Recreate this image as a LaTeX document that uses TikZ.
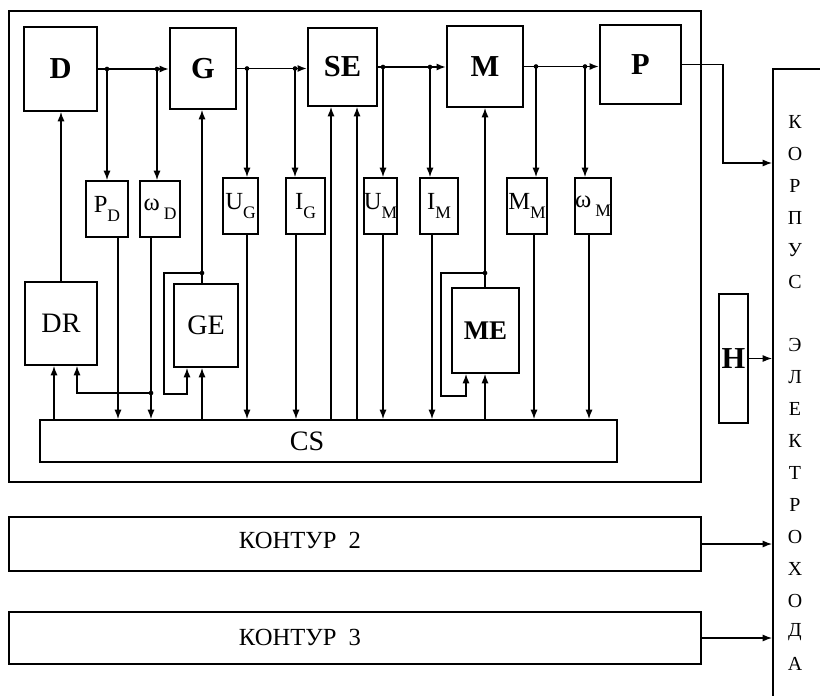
\documentclass[tikz,border=0pt]{standalone}
\usepackage{fontspec}
\setmainfont{Liberation Serif}
\usepackage{graphicx}
\usetikzlibrary{arrows.meta}

\newcommand{\meas}[2]{#1\raisebox{-8pt}{\fontsize{15}{15}\selectfont #2}}

\begin{document}
\begin{tikzpicture}[
    x=0.03cm, y=-0.03cm,
    >={Latex[length=8pt,width=6pt]},
    block/.style={draw, line width=1.6pt, inner sep=0pt, font=\fontsize{26}{26}\selectfont\bfseries},
    unit/.style={draw, line width=1.6pt, inner sep=0pt, font=\fontsize{24}{24}\selectfont},
    sensor/.style={draw, line width=1.6pt, inner sep=0pt, minimum height=1.68cm, font=\fontsize{21}{21}\selectfont},
    flow/.style={line width=1.6pt},
    link/.style={line width=1pt}
]
    \useasboundingbox (0,0) rectangle (820,695);

    % Contour 1 frame
    \draw[line width=1.6pt] (9,11) rectangle (701,482);

    % Nodes: main chain
    \node[block, minimum width=2.19cm, minimum height=2.52cm] (D) at (60.5,69) {D};
    \node[block, minimum width=1.98cm, minimum height=2.43cm] (G) at (203,68.5) {G};
    \node[block, minimum width=2.07cm, minimum height=2.34cm] (SE) at (342.5,67) {SE};
    \node[block, minimum width=2.28cm, minimum height=2.43cm] (M) at (485,66.5) {M};
    \node[block, minimum width=2.43cm, minimum height=2.37cm] (P) at (640.5,64.5) {P};

    % Nodes: sensors
    \node[sensor, minimum width=1.26cm] (PD) at (107,209) {\meas{P}{D}};
    \node[sensor, minimum width=1.2cm] (wD) at (160,209) {\meas{ω\,}{D}};
    \node[sensor, minimum width=1.05cm] (UG) at (240.5,206) {\meas{U}{G}};
    \node[sensor, minimum width=1.17cm] (IG) at (305.5,206) {\meas{I}{G}};
    \node[sensor, minimum width=0.93cm] (UM) at (380.5,206) {\meas{U}{M}};
    \node[sensor, minimum width=1.14cm] (IM) at (439,206) {\meas{I}{M}};
    \node[sensor, minimum width=1.2cm] (MM) at (527,206) {\meas{M}{M}};
    \node[sensor, minimum width=1.08cm] (wM) at (593,206) {\meas{ω\,}{M}};

    % Nodes: regulators and control system
    \node[unit, minimum width=2.16cm, minimum height=2.49cm] (DR) at (61,323.5) {DR};
    \node[unit, minimum width=1.92cm, minimum height=2.49cm] (GE) at (206,325.5) {GE};
    \node[unit, minimum width=2.01cm, minimum height=2.55cm, font=\fontsize{23}{23}\selectfont\bfseries] (ME) at (485.5,330.5) {ME};
    \node[unit, minimum width=17.31cm, minimum height=1.26cm] (CS) at (328.5,441) {};
    \node[font=\fontsize{24}{24}\selectfont] (CStxt) at (307,441) {CS};

    % Nodes: other contours and hull
    \node[block, minimum width=0.87cm, minimum height=3.87cm] (H) at (733.5,358.5) {H};
    \node[unit, minimum width=20.76cm, minimum height=1.62cm] (K2) at (355,544) {};
    \node[unit, minimum width=20.76cm, minimum height=1.56cm] (K3) at (355,638) {};
    \node[font=\fontsize{21}{21}\selectfont] (K2txt) at (300,540) {КОНТУР\ \ 2};
    \node[font=\fontsize{21}{21}\selectfont] (K3txt) at (300,637) {КОНТУР\ \ 3};
    \node[draw, line width=1.6pt, anchor=north west, minimum width=1.8cm, minimum height=19cm] (body) at (772,68) {};
    \foreach \c [count=\i from 0] in {К,О,Р,П,У,С,{},Э,Л,Е,К,Т,Р,О,Х,О,Д,А}
        \node[font=\fontsize{17}{17}\selectfont] (hull\i) at (795,122+31.9*\i) {\c};

    % Edges: power chain
    \draw[flow, ->] (D.east) -- (D.east -| G.west);
    \draw[flow, ->] (G.east) -- (G.east -| SE.west);
    \draw[flow, ->] (SE.east) -- (SE.east -| M.west);
    \draw[flow, ->] (M.east) -- (M.east -| P.west);

    % Edges: measurements
    \foreach \x/\src/\dst in {107/D/PD, 157/D/wD, 247/G/UG, 295/G/IG, 383/SE/UM, 430/SE/IM, 536/M/MM, 585/M/wM} {
        \fill (\x,0 |- \src.east) circle (2pt);
        \draw[link, ->] (\x,0 |- \src.east) -- (\x,0 |- \dst.north);
    }
    \foreach \x/\src in {118/PD, 151/wD, 247/UG, 296/IG, 383/UM, 432/IM, 534/MM, 589/wM}
        \draw[link, ->] (\x,0 |- \src.south) -- (\x,0 |- CS.north);

    % Edges: drive regulator
    \draw[link, ->] (DR.north) -- (DR.north |- D.south);
    \draw[link, ->] (54,0 |- CS.north) -- (54,0 |- DR.south);
    \coordinate (wDj) at (151,393);
    \fill (wDj) circle (2pt);
    \draw[link, ->] (wDj) -| (77,0 |- DR.south);

    % Edges: generator excitation
    \coordinate (GEj) at (202,273);
    \fill (GEj) circle (2pt);
    \draw[link, ->] (GEj |- GE.north) -- (GEj |- G.south);
    \draw[link, ->] (GEj) -| (164,394) -| (187,0 |- GE.south);
    \draw[link, ->] (GEj |- CS.north) -- (GEj |- GE.south);

    % Edges: static converter
    \foreach \x in {331, 357}
        \draw[link, ->] (\x,0 |- CS.north) -- (\x,0 |- SE.south);

    % Edges: motor excitation
    \coordinate (MEj) at (485,273);
    \fill (MEj) circle (2pt);
    \draw[link, ->] (MEj |- ME.north) -- (MEj |- M.south);
    \draw[link, ->] (MEj) -| (441,396) -| (466,0 |- ME.south);
    \draw[link, ->] (MEj |- CS.north) -- (MEj |- ME.south);

    % Edges: to the hull
    \coordinate (Pb) at (723,163);
    \draw[link, ->] (P.east) -| (Pb) -- (Pb -| body.west);
    \draw[link, ->] (H.east) -- (H.east -| body.west);
    \draw[link, ->] (K2.east) -- (K2.east -| body.west);
    \draw[link, ->] (K3.east) -- (K3.east -| body.west);
\end{tikzpicture}
\end{document}
